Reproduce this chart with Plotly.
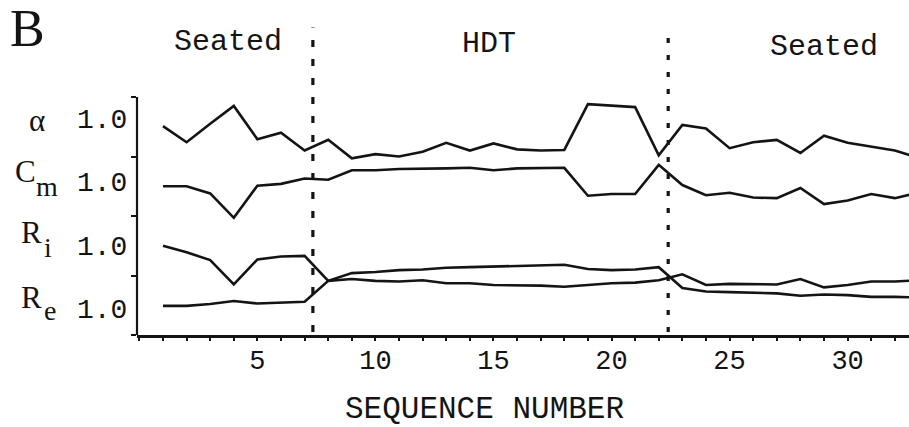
import plotly.graph_objects as go

# ---- data ----
seq = list(range(1, 34))
alpha = [1.01, 0.74, 1.05, 1.35, 0.79, 0.90, 0.60, 0.78, 0.47, 0.54, 0.50, 0.58, 0.73,
         0.60, 0.72, 0.62, 0.60, 0.61, 1.38, 1.35, 1.33, 0.52, 1.03, 0.97, 0.64, 0.74,
         0.78, 0.56, 0.85, 0.73, 0.67, 0.60, 0.48]
c_m = [1.00, 1.00, 0.88, 0.47, 1.01, 1.04, 1.13, 1.11, 1.27, 1.27, 1.29, 1.29, 1.30,
       1.31, 1.27, 1.30, 1.30, 1.31, 0.84, 0.87, 0.87, 1.36, 1.02, 0.85, 0.89, 0.81,
       0.80, 0.97, 0.70, 0.76, 0.87, 0.80, 0.89]
r_i = [1.00, 0.89, 0.76, 0.35, 0.77, 0.82, 0.83, 0.41, 0.44, 0.41, 0.40, 0.42, 0.37,
       0.37, 0.34, 0.34, 0.33, 0.31, 0.34, 0.37, 0.38, 0.42, 0.52, 0.34, 0.36, 0.35,
       0.35, 0.44, 0.30, 0.34, 0.40, 0.40, 0.42]
r_e = [0.99, 0.99, 1.02, 1.07, 1.03, 1.05, 1.06, 1.41, 1.54, 1.56, 1.59, 1.60, 1.63,
       1.64, 1.65, 1.66, 1.68, 1.68, 1.61, 1.59, 1.60, 1.64, 1.29, 1.23, 1.22, 1.21,
       1.20, 1.16, 1.18, 1.17, 1.14, 1.14, 1.13]
x_ticks = [5, 10, 15, 20, 25, 30]
phase_labels = ["Seated", "HDT", "Seated"]
phase_bounds = [7.35, 22.4]
series_symbols = ["α", "C", "R", "R"]
series_subs = ["", "m", "i", "e"]
ref_label = "1.0"

# ---- layout constants ----
W, H = 909, 427
ML, MR, MT, MB = 137, 0, 27, 92
PW, PH = W - ML - MR, H - MT - MB
BAND = 59.5
YTOP = PH / BAND
MONO = "Liberation Mono"
SERIF = "Liberation Serif"
INK = "#141414"


def P(px, py):
    return (px - ML) / PW, (H - MB - py) / PH


fig = go.Figure()
for vals, off in [(alpha, 3), (c_m, 2), (r_i, 1), (r_e, 0)]:
    fig.add_trace(go.Scatter(
        x=seq, y=[off + v - 0.5 for v in vals], mode="lines",
        line=dict(color=INK, width=2.6), showlegend=False, hoverinfo="skip"))

shapes = []
for xb, dash in zip(phase_bounds, ["7px,12px", "5px,12px"]):
    shapes.append(dict(type="line", xref="x", yref="y", x0=xb, x1=xb, y0=0.05,
                       y1=YTOP - 0.01, line=dict(color=INK, width=3.2, dash=dash)))
shapes.append(dict(type="line", xref="paper", yref="y", x0=0, x1=0, y0=0, y1=4,
                   line=dict(color=INK, width=2.2)))

ann = []


def add_text(text, px, py, size, family, xanchor="center", yanchor="middle"):
    x, y = P(px, py)
    ann.append(dict(text=text, x=x, y=y, xref="paper", yref="paper", showarrow=False,
                    xanchor=xanchor, yanchor=yanchor,
                    font=dict(family=family, size=size, color=INK)))


add_text("B", 27, 29, 52, SERIF)
for lab, (px, py) in zip(phase_labels, [(228, 42), (489, 44), (824, 47)]):
    add_text(lab, px, py, 30, MONO)

sym_pos = [(37, 120), (25, 171), (32, 232), (32, 297)]
sub_pos = [None, (47, 187), (48, 247), (50, 310)]
num_pos = [120, 183, 248, 310]
for sym, sub, (sx, sy), spos, ny in zip(series_symbols, series_subs, sym_pos, sub_pos, num_pos):
    add_text(sym, sx, sy, 31, SERIF)
    if sub:
        add_text(sub, spos[0], spos[1], 28, SERIF)
    add_text(ref_label, 129, ny, 28, MONO, xanchor="right")

add_text("SEQUENCE NUMBER", 484, 409, 31, MONO)

fig.update_layout(
    width=W, height=H, margin=dict(l=ML, r=MR, t=MT, b=MB),
    paper_bgcolor="white", plot_bgcolor="white",
    shapes=shapes, annotations=ann, showlegend=False,
    xaxis=dict(range=[-0.1, 32.6], tickvals=x_ticks, ticktext=[str(t) for t in x_ticks],
               showline=True, linewidth=2.5, linecolor=INK, showgrid=False, zeroline=False,
               ticks="outside", ticklen=3, tickwidth=1.5, tickcolor=INK,
               minor=dict(dtick=1, tick0=0, ticks="outside", ticklen=3, tickwidth=1.5,
                          tickcolor=INK, showgrid=False),
               tickfont=dict(family=MONO, size=27, color=INK), ticklabelstandoff=-4),
    yaxis=dict(range=[0, YTOP], tickvals=[0, 1, 2, 3, 4], showticklabels=False,
               ticks="outside", ticklen=5, tickwidth=2, tickcolor=INK,
               showgrid=False, zeroline=False, showline=False),
)

fig.write_html("out.html", config={"displayModeBar": False},
               post_script="document.body.style.margin='0';")
